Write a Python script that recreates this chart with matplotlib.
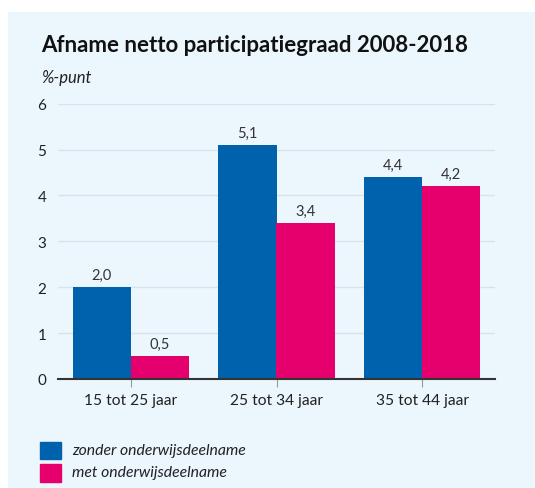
import numpy as np
import matplotlib.pyplot as plt
from matplotlib.patches import Rectangle

categories = ['15 tot 25 jaar', '25 tot 34 jaar', '35 tot 44 jaar']
zonder = [2.0, 5.1, 4.4]
met = [0.5, 3.4, 4.2]
series_names = ['zonder onderwijsdeelname', 'met onderwijsdeelname']
yticks = [0, 1, 2, 3, 4, 5, 6]

blue = '#0061ad'
pink = '#e5006e'
panel = '#ecf6fd'

plt.rcParams['font.family'] = ['Lato', 'DejaVu Sans']

W, H = 535, 489
fig = plt.figure(figsize=(W / 100, H / 100), dpi=100, facecolor='white')

# light panel behind everything
fig.patches.append(Rectangle((8 / W, 0), 1 - 8 / W, (H - 13) / H,
                             transform=fig.transFigure, color=panel, zorder=-1))

ax = fig.add_axes([58 / W, (H - 380) / H, (495 - 58) / W, (380 - 104.7) / H])
ax.set_facecolor('none')

x = np.arange(len(categories))
w = 0.4
b1 = ax.bar(x - w / 2, zonder, w, color=blue, zorder=3)
b2 = ax.bar(x + w / 2, met, w, color=pink, zorder=3)

for bars in (b1, b2):
    for bar in bars:
        h = bar.get_height()
        ax.text(bar.get_x() + bar.get_width() / 2, h + 0.12,
                f'{h:.1f}'.replace('.', ','), ha='center', va='bottom',
                fontsize=10.5, color='#333333')

ax.set_xlim(-0.5, 2.5)
ax.set_ylim(0, 6)
ax.set_yticks(yticks)
ax.set_yticklabels([str(t) for t in yticks])
ax.grid(axis='y', color='#d8e2ea', linewidth=1, zorder=0)
ax.set_xticks(x)
ax.set_xticklabels(categories, fontsize=11.2)
ax.tick_params(axis='y', length=0, pad=8.5, labelsize=11, labelcolor='#222222')
ax.tick_params(axis='x', length=6, color='#999999', pad=4, labelcolor='#222222')
for s in ['top', 'right', 'left']:
    ax.spines[s].set_visible(False)
ax.spines['bottom'].set_color('#333333')
ax.spines['bottom'].set_linewidth(1.5)
ax.spines['bottom'].set_zorder(4)

fig.text(41.5 / W, 1 - 46 / H, 'Afname netto participatiegraad 2008-2018',
         fontsize=16, fontweight='bold', va='center', color='#111111')
fig.text(41.5 / W, 1 - 78 / H, '%-punt', fontsize=12, style='italic',
         va='center', color='#222222')

# legend
for i, (name, c) in enumerate(zip(series_names, [blue, pink])):
    y0 = 442.7 + i * 22.3
    fig.patches.append(Rectangle((40 / W, 1 - (y0 + 17.5) / H), 21 / W, 17.5 / H,
                                 transform=fig.transFigure, color=c))
    fig.text(71.7 / W, 1 - (y0 + 8.5) / H, name, fontsize=11.3, style='italic',
             va='center', color='#222222')

fig.savefig('out.png', dpi=100, facecolor=fig.get_facecolor())
